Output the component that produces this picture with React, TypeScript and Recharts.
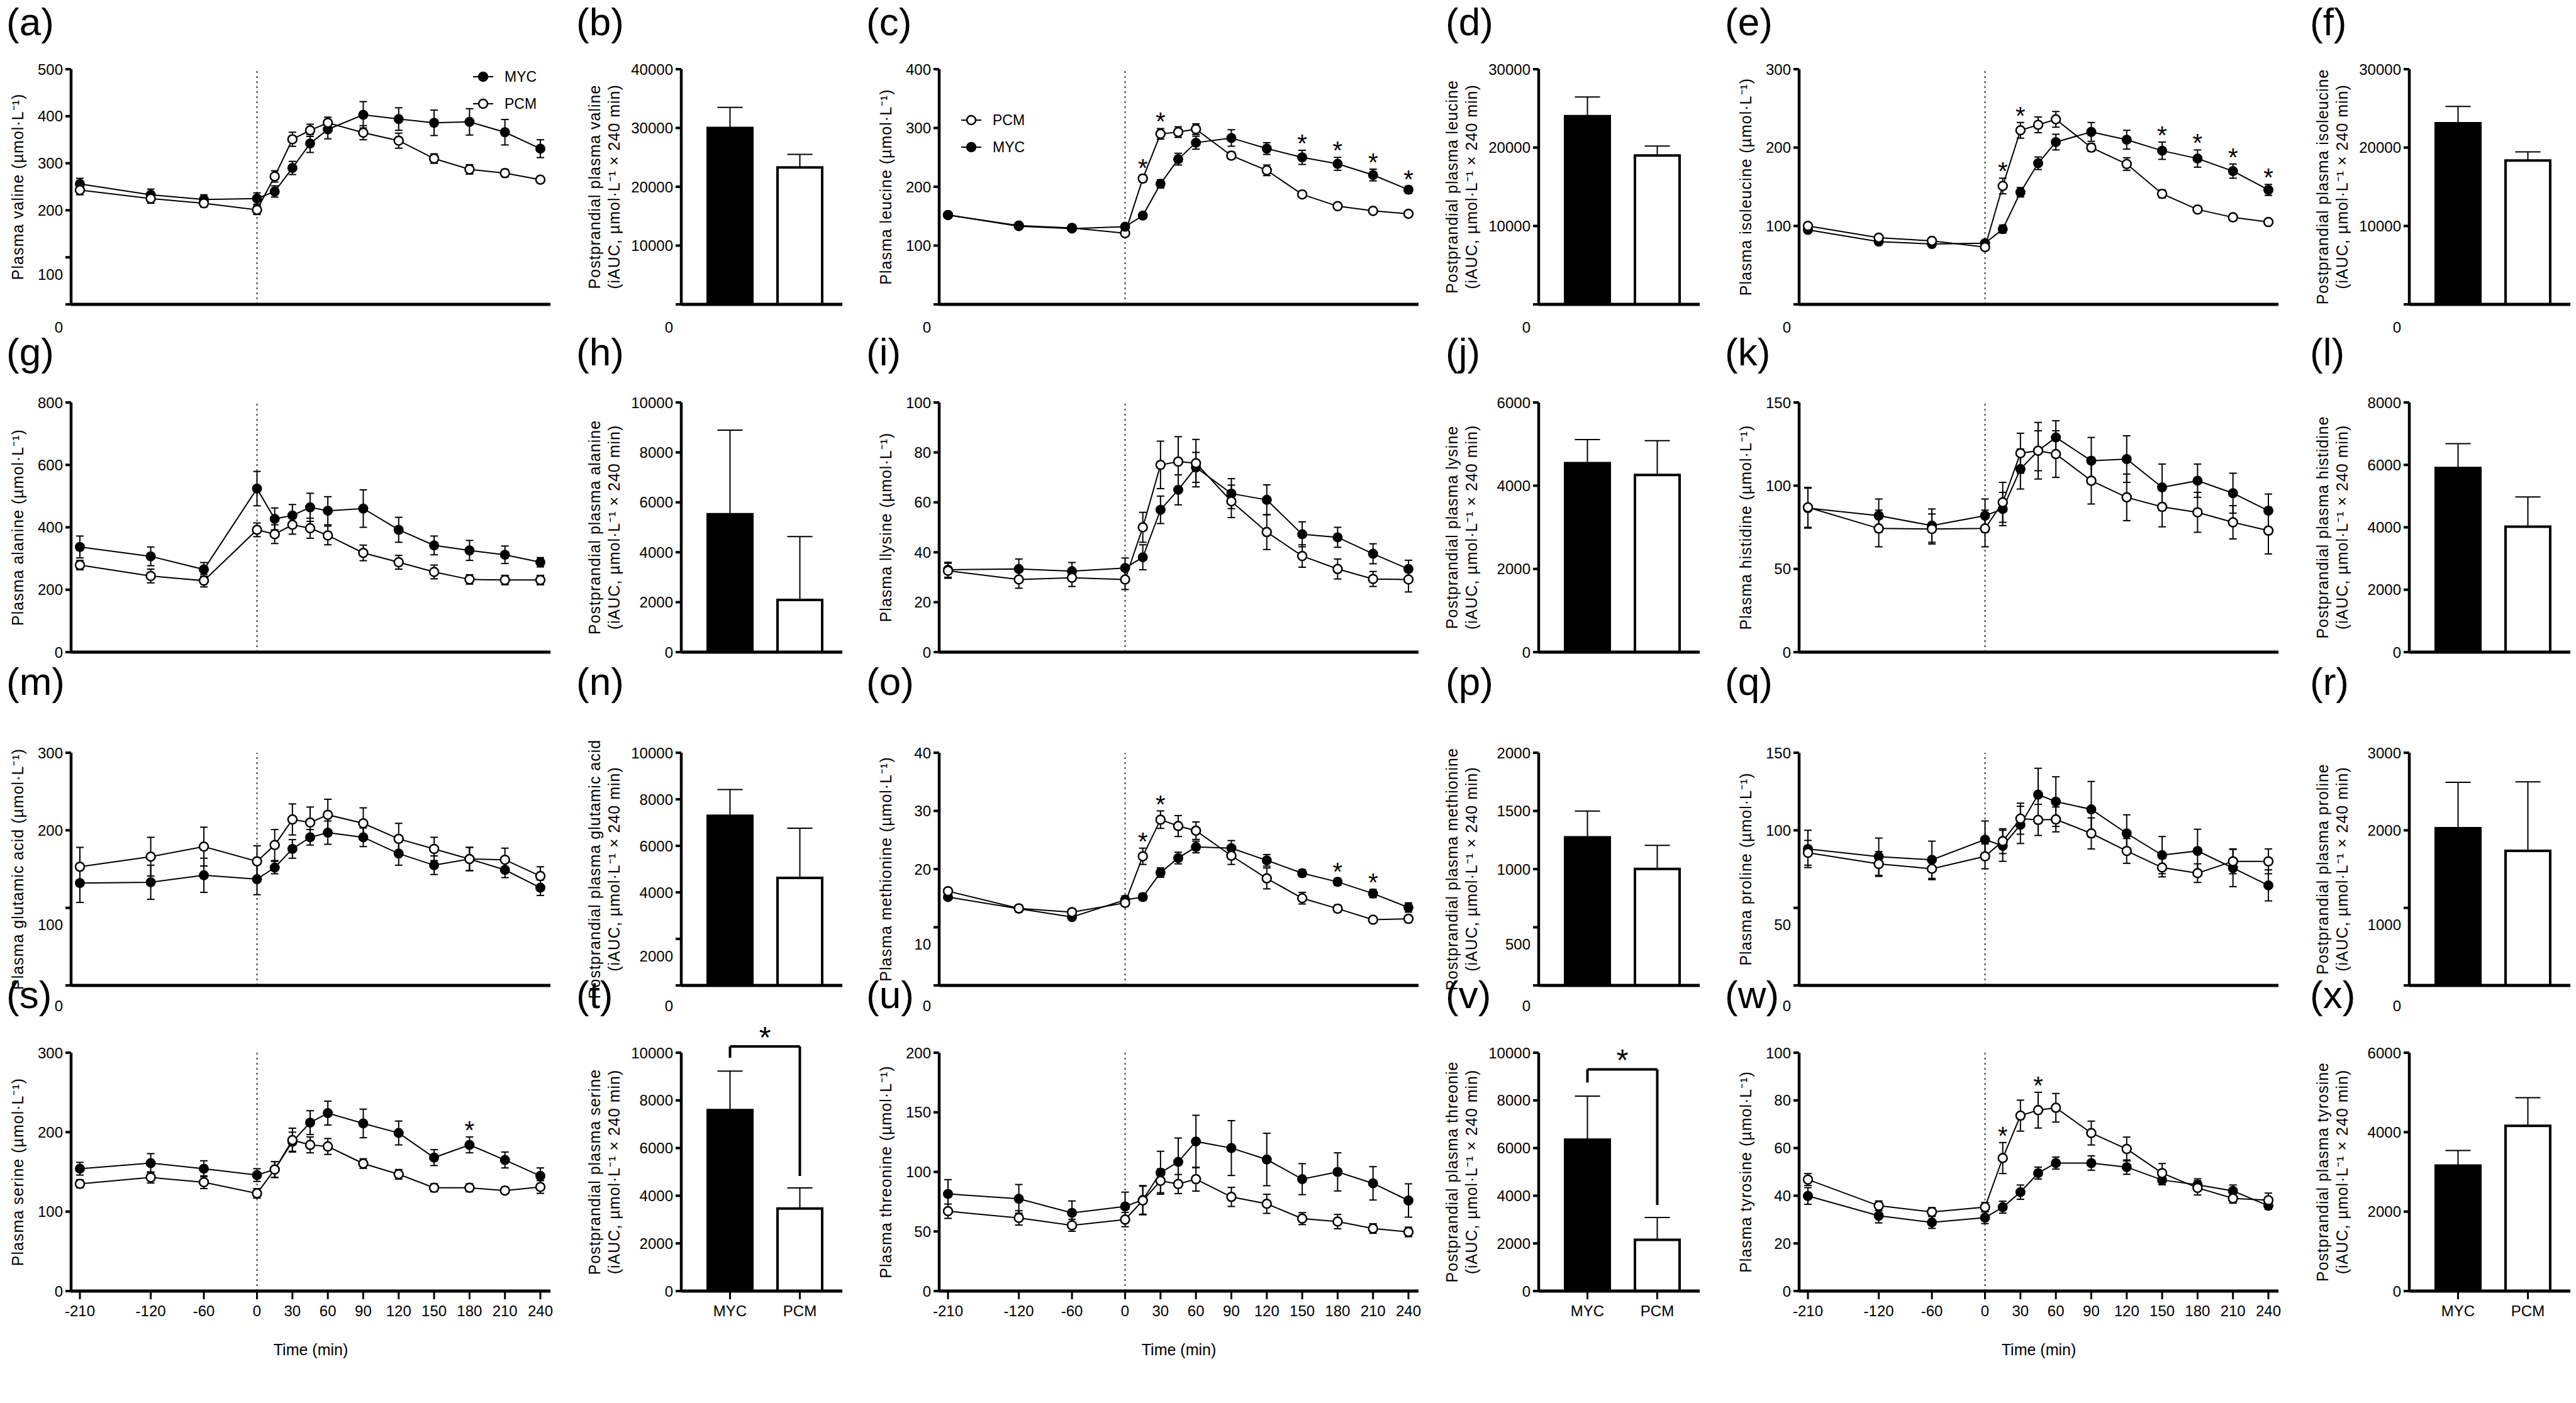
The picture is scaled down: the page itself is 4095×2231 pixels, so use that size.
import React from 'react';
import {ComposedChart, Line, BarChart, Bar, Cell, XAxis, YAxis, ReferenceLine, ErrorBar} from 'recharts';

const FONT = '"Liberation Sans", Arial, Helvetica, sans-serif';

// sampling times (min) and the x tick labels
const times = [-210, -120, -60, 0, 15, 30, 45, 60, 90, 120, 150, 180, 210, 240];
const xTickTimes = [-210, -120, -60, 0, 30, 60, 90, 120, 150, 180, 210, 240];
const groups = ['MYC', 'PCM'];

// valine
const valineMYC = [256, 233, 223, 225, 240, 290, 342, 372, 403, 394, 386, 388, 366, 331];
const valineMYCse = [12, 12, 10, 12, 12, 14, 19, 20, 28, 24, 27, 28, 27, 19];
const valinePCM = [243, 225, 215, 201, 272, 351, 370, 386, 365, 348, 310, 287, 279, 265];
const valinePCMse = [10, 10, 8, 10, 12, 15, 13, 12, 15, 16, 10, 10, 8, 7];
const valineAUC = [30000, 23300];
const valineAUCse = [3500, 2200];

// leucine
const leucineMYC = [152, 133, 129, 132, 151, 205, 247, 275, 283, 265, 250, 239, 220, 195];
const leucineMYCse = [3, 3, 3, 4, 5, 7, 10, 11, 14, 10, 12, 11, 10, 6];
const leucinePCM = [152, 134, 130, 121, 214, 290, 293, 298, 253, 228, 187, 167, 159, 154];
const leucinePCMse = [3, 3, 3, 4, 6, 9, 9, 9, 6, 9, 5, 4, 4, 4];
const leucineAUC = [24000, 19000];
const leucineAUCse = [2450, 1200];

// isoleucine
const isoleucineMYC = [95, 80, 77, 78, 96, 143, 180, 207, 220, 210, 196, 186, 170, 146];
const isoleucineMYCse = [3, 3, 3, 3, 5, 6, 8, 10, 12, 12, 11, 11, 9, 7];
const isoleucinePCM = [100, 85, 81, 73, 151, 222, 229, 236, 200, 179, 141, 121, 111, 105];
const isoleucinePCMse = [3, 3, 3, 3, 10, 10, 10, 10, 5, 8, 5, 4, 4, 3];
const isoleucineAUC = [23100, 18350];
const isoleucineAUCse = [2150, 1100];

// alanine
const alanineMYC = [337, 307, 265, 524, 427, 438, 464, 453, 460, 392, 342, 326, 312, 288];
const alanineMYCse = [35, 30, 22, 55, 35, 35, 45, 45, 60, 40, 30, 32, 28, 15];
const alaninePCM = [279, 244, 229, 392, 378, 408, 397, 374, 318, 288, 257, 233, 231, 231];
const alaninePCMse = [15, 22, 20, 22, 30, 30, 32, 30, 25, 22, 22, 15, 15, 15];
const alanineAUC = [5520, 2090];
const alanineAUCse = [3370, 2540];

// lysine
const lysineMYC = [33, 33.3, 32.4, 33.7, 38, 57, 65, 74, 63.5, 61, 47.2, 46, 39.4, 33.3];
const lysineMYCse = [3, 4, 3.5, 4, 5, 5.5, 6, 6, 6, 6, 5, 4, 4, 3.5];
const lysinePCM = [32.6, 29.1, 29.8, 29.1, 50, 75, 76.3, 75.7, 60.4, 48.1, 38.5, 33.3, 29.3, 29.1];
const lysinePCMse = [3, 3.5, 3.5, 4, 6, 9.5, 10, 9.5, 6.5, 7, 4.5, 4, 3, 5];
const lysineAUC = [4540, 4260];
const lysineAUCse = [570, 820];

// histidine
const histidineMYC = [86.5, 82, 76, 82, 86, 110, 121, 129, 115, 116, 99, 103, 95.5, 85];
const histidineMYCse = [12, 10, 10, 10, 10, 12, 17, 10, 14, 14, 14, 10, 12, 10];
const histidinePCM = [87, 74.3, 74, 74.3, 90, 119.5, 121, 119, 103, 93, 87.3, 84, 78, 73];
const histidinePCMse = [12, 11, 9, 11, 12, 12, 12, 14, 14, 14, 12, 12, 10, 14];
const histidineAUC = [5900, 4020];
const histidineAUCse = [780, 950];

// glutamic acid
const glutamicMYC = [132, 133, 142, 137, 152, 176, 191, 197, 191, 170, 155, 163, 149, 126];
const glutamicMYCse = [25, 22, 22, 20, 8, 12, 10, 15, 12, 15, 12, 15, 10, 10];
const glutamicPCM = [153, 166, 179, 160, 181, 214, 210, 220, 209, 189, 176, 163, 162, 141];
const glutamicPCMse = [25, 25, 25, 20, 20, 20, 20, 20, 20, 20, 15, 15, 15, 12];
const glutamicAUC = [7290, 4620];
const glutamicAUCse = [1130, 2140];

// methionine
const methionineMYC = [15.2, 13.2, 11.75, 14.7, 15.2, 19.4, 21.9, 23.8, 23.6, 21.5, 19.3, 17.8, 15.8, 13.4];
const methionineMYCse = [0.5, 0.6, 0.5, 0.7, 0.6, 0.8, 1.0, 1.0, 1.3, 1.0, 0.6, 0.6, 0.7, 0.8];
const methioninePCM = [16.2, 13.25, 12.6, 14.2, 22.2, 28.5, 27.4, 26.6, 22.3, 18.4, 15.0, 13.2, 11.3, 11.45];
const methioninePCMse = [0.5, 0.5, 0.5, 0.6, 1.4, 1.5, 1.8, 1.5, 1.5, 1.8, 1.0, 0.6, 0.4, 0.6];
const methionineAUC = [1273, 1002];
const methionineAUCse = [225, 202];

// proline
const prolineMYC = [88, 83, 81, 94, 90, 103.5, 123, 118.5, 113.5, 98, 84, 86.7, 75.7, 64.5];
const prolineMYCse = [12, 12, 12, 12, 10, 12, 17, 16, 18, 12, 12, 14, 12, 10];
const prolinePCM = [85.5, 78.3, 75.2, 83.2, 93, 107.5, 106.7, 107, 98, 86.7, 76, 72.4, 80, 80];
const prolinePCMse = [8, 8, 7, 8, 8, 10, 10, 8, 10, 8, 6, 6, 8, 8];
const prolineAUC = [2028, 1735];
const prolineAUCse = [590, 890];

// serine
const serineMYC = [154, 161, 154, 146, 153, 188, 212, 224, 211, 199, 168, 184, 165, 145];
const serineMYCse = [8, 12, 10, 8, 10, 12, 15, 15, 18, 15, 10, 10, 10, 10];
const serinePCM = [135, 143, 137, 123, 153, 190, 184, 182, 160.5, 147, 130, 130, 126.5, 131];
const serinePCMse = [5, 7, 8, 6, 10, 15, 10, 10, 6, 6, 5, 5, 4, 8];
const serineAUC = [7590, 3460];
const serineAUCse = [1640, 870];

// threonine
const threonineMYC = [81.5, 77.4, 65.6, 71, 76.5, 99.3, 108.4, 125.5, 120, 110.4, 93.9, 100, 90.4, 76];
const threonineMYCse = [12, 12, 10, 12, 12, 18, 20, 22, 23, 22, 13, 16, 14, 14];
const threoninePCM = [67, 61.4, 55.2, 60, 76, 92.5, 89.8, 93.9, 79, 73.2, 60.8, 58.3, 52.5, 49.6];
const threoninePCMse = [6, 6, 5, 6, 12, 10, 8, 10, 8, 8, 5, 6, 4, 4];
const threonineAUC = [6350, 2150];
const threonineAUCse = [1830, 940];

// tyrosine
const tyrosineMYC = [39.9, 31.6, 28.8, 30.8, 35.2, 41.5, 49.5, 53.7, 53.7, 52, 46.6, 44.6, 42, 35.8];
const tyrosineMYCse = [3.5, 3, 2.5, 2.5, 2.5, 3, 2.5, 2.5, 3, 3, 2, 2.5, 2.5, 1.5];
const tyrosinePCM = [46.8, 35.8, 33.2, 35.2, 55.8, 73.6, 75.9, 76.9, 66.3, 59.6, 49.5, 43.3, 38.9, 38.1];
const tyrosinePCMse = [2.5, 2, 1.8, 2, 6.5, 6.5, 7.5, 6, 5, 5, 4, 3, 2, 3];
const tyrosineAUC = [3160, 4160];
const tyrosineAUCse = [380, 710];

// layout of the 4 x 3 grid of panel pairs
const COL_X = [0, 1365, 2730];
const LINE_AXIS_X = [113, 128, 130];
const BAR_AXIS_X = [1083, 1081, 1100];
const LINE_LETTER_X = [10, 12, 12];
const BAR_LETTER_X = [916, 933, 942];
const LETTER_TOP = [4, 529, 1053, 1551];
const PLOT_TOP = [110, 640, 1197, 1674];
const PLOT_BOTTOM = [484, 1037, 1567, 2053];
const LINE_PLOT_W = 762;
const BAR_PLOT_W = 256;
const BAR_AXIS_W = 170;
const MT = 50;
const TICK_FONT = 24;

// the time axis is broken: the fasting period is compressed
const knotTimes = [-210, -120, -60, 0, 240];
const knotSlots = [0, 2, 3.5, 5, 13];
function timePos(t: number) {
  for (let k = 0; k < knotTimes.length - 1; k++) {
    if (t <= knotTimes[k + 1]) {
      return knotSlots[k] + ((t - knotTimes[k]) / (knotTimes[k + 1] - knotTimes[k])) * (knotSlots[k + 1] - knotSlots[k]);
    }
  }
  return knotSlots[knotSlots.length - 1];
}
const xTickPos = xTickTimes.map(timePos);

const UNIT = ' (µmol·L⁻¹)';
const AUC_UNIT = '(iAUC, µmol·L⁻¹ × 240 min)';

const linePanels = [
  {letter: 'a', name: 'valine', yMax: 500, step: 100, myc: valineMYC, mycSe: valineMYCse, pcm: valinePCM, pcmSe: valinePCMse, stars: [] as number[], shift: {0: 36, 100: 27}},
  {letter: 'c', name: 'leucine', yMax: 400, step: 100, myc: leucineMYC, mycSe: leucineMYCse, pcm: leucinePCM, pcmSe: leucinePCMse, stars: [15, 30, 150, 180, 210, 240], shift: {0: 36}, mycOnTop: true},
  {letter: 'e', name: 'isoleucine', yMax: 300, step: 100, myc: isoleucineMYC, mycSe: isoleucineMYCse, pcm: isoleucinePCM, pcmSe: isoleucinePCMse, stars: [15, 30, 150, 180, 210, 240], shift: {0: 36}},
  {letter: 'g', name: 'alanine', yMax: 800, step: 200, myc: alanineMYC, mycSe: alanineMYCse, pcm: alaninePCM, pcmSe: alaninePCMse, stars: [], shift: {}},
  {letter: 'i', name: 'llysine', yMax: 100, step: 20, myc: lysineMYC, mycSe: lysineMYCse, pcm: lysinePCM, pcmSe: lysinePCMse, stars: [], shift: {}},
  {letter: 'k', name: 'histidine', yMax: 150, step: 50, myc: histidineMYC, mycSe: histidineMYCse, pcm: histidinePCM, pcmSe: histidinePCMse, stars: [], shift: {}},
  {letter: 'm', name: 'glutamic acid', yMax: 300, step: 100, myc: glutamicMYC, mycSe: glutamicMYCse, pcm: glutamicPCM, pcmSe: glutamicPCMse, stars: [], shift: {0: 32, 100: 27}},
  {letter: 'o', name: 'methionine', yMax: 40, step: 10, myc: methionineMYC, mycSe: methionineMYCse, pcm: methioninePCM, pcmSe: methioninePCMse, stars: [15, 30, 180, 210], shift: {0: 32, 10: 27}},
  {letter: 'q', name: 'proline', yMax: 150, step: 50, myc: prolineMYC, mycSe: prolineMYCse, pcm: prolinePCM, pcmSe: prolinePCMse, stars: [], shift: {0: 32, 50: 27}},
  {letter: 's', name: 'serine', yMax: 300, step: 100, myc: serineMYC, mycSe: serineMYCse, pcm: serinePCM, pcmSe: serinePCMse, stars: [180], shift: {}},
  {letter: 'u', name: 'threonine', yMax: 200, step: 50, myc: threonineMYC, mycSe: threonineMYCse, pcm: threoninePCM, pcmSe: threoninePCMse, stars: [], shift: {}},
  {letter: 'w', name: 'tyrosine', yMax: 100, step: 20, myc: tyrosineMYC, mycSe: tyrosineMYCse, pcm: tyrosinePCM, pcmSe: tyrosinePCMse, stars: [15, 45], shift: {}},
];

const barPanels = [
  {letter: 'b', name: 'valine', yMax: 40000, step: 10000, vals: valineAUC, errs: valineAUCse, shift: {0: 36}},
  {letter: 'd', name: 'leucine', yMax: 30000, step: 10000, vals: leucineAUC, errs: leucineAUCse, shift: {0: 36}},
  {letter: 'f', name: 'isoleucine', yMax: 30000, step: 10000, vals: isoleucineAUC, errs: isoleucineAUCse, shift: {0: 36}},
  {letter: 'h', name: 'alanine', yMax: 10000, step: 2000, vals: alanineAUC, errs: alanineAUCse, shift: {}},
  {letter: 'j', name: 'lysine', yMax: 6000, step: 2000, vals: lysineAUC, errs: lysineAUCse, shift: {}},
  {letter: 'l', name: 'histidine', yMax: 8000, step: 2000, vals: histidineAUC, errs: histidineAUCse, shift: {}},
  {letter: 'n', name: 'glutamic acid', yMax: 10000, step: 2000, vals: glutamicAUC, errs: glutamicAUCse, shift: {0: 32, 2000: 27}},
  {letter: 'p', name: 'methionine', yMax: 2000, step: 500, vals: methionineAUC, errs: methionineAUCse, shift: {0: 32, 500: 27}},
  {letter: 'r', name: 'proline', yMax: 3000, step: 1000, vals: prolineAUC, errs: prolineAUCse, shift: {0: 32, 1000: 27}},
  {letter: 't', name: 'serine', yMax: 10000, step: 2000, vals: serineAUC, errs: serineAUCse, shift: {}, bracket: {left: 9790, top: 10262, right: 4826}},
  {letter: 'v', name: 'threonie', yMax: 10000, step: 2000, vals: threonineAUC, errs: threonineAUCse, shift: {}, bracket: {left: 8750, top: 9302, right: 3615}},
  {letter: 'x', name: 'tyrosine', yMax: 6000, step: 2000, vals: tyrosineAUC, errs: tyrosineAUCse, shift: {}},
];

function makeTicks(max: number, step: number) {
  const out: number[] = [];
  for (let v = 0; v <= max + 1e-9; v += step) out.push(v);
  return out;
}

function YTick(props: any) {
  const {x, y, payload, shift} = props;
  const dy = (shift && shift[payload.value]) || 0;
  return (
    <text x={x} y={y + dy} dy="0.36em" textAnchor="end" fontSize={TICK_FONT} fontFamily={FONT} fill="#000">
      {payload.value}
    </text>
  );
}

function SideTitle(props: any) {
  const {tx, ty, lines} = props;
  return (
    <g>
      {lines.map((s: string, i: number) => (
        <text key={i} x={tx + i * 31} y={ty} transform={`rotate(-90 ${tx + i * 31} ${ty})`} textAnchor="middle"
          dominantBaseline="central" fontSize={25} letterSpacing={1} fontFamily={FONT} fill="#000">
          {s}
        </text>
      ))}
    </g>
  );
}

const renderStar = (props: any) => {
  const {cx, cy, payload, index} = props;
  if (!payload || payload.star == null || cy == null || isNaN(cy)) return <g key={`st${index}`} />;
  return (
    <text key={`st${index}`} x={cx} y={cy + 3} textAnchor="middle" fontSize={40} fontFamily={FONT} fill="#000">*</text>
  );
};

function TimeCourse({p, row, col}: any) {
  const L = LINE_AXIS_X[col];
  const plotH = PLOT_BOTTOM[row] - PLOT_TOP[row];
  const last = row === 3;
  const xh = last ? 120 : 70;
  const W = L + LINE_PLOT_W + 12;
  const H = MT + plotH + xh;
  const data = times.map((t, i) => ({
    x: timePos(t),
    myc: p.myc[i],
    mycE: p.mycSe[i],
    pcm: p.pcm[i],
    pcmE: p.pcmSe[i],
    star: p.stars.includes(t) ? Math.max(p.myc[i] + p.mycSe[i], p.pcm[i] + p.pcmSe[i]) : null,
  }));
  const mycLine = (
    <Line key="myc" dataKey="myc" stroke="#000" strokeWidth={2} isAnimationActive={false} activeDot={false}
      dot={{r: 7, fill: '#000', stroke: '#000', strokeWidth: 2}}>
      <ErrorBar dataKey="mycE" width={6} stroke="#000" strokeWidth={2} direction="y" isAnimationActive={false} />
    </Line>
  );
  const pcmLine = (
    <Line key="pcm" dataKey="pcm" stroke="#000" strokeWidth={2} isAnimationActive={false} activeDot={false}
      dot={{r: 7, fill: '#fff', stroke: '#000', strokeWidth: 2.5}}>
      <ErrorBar dataKey="pcmE" width={6} stroke="#000" strokeWidth={2} direction="y" isAnimationActive={false} />
    </Line>
  );
  return (
    <div style={{position: 'absolute', left: COL_X[col], top: PLOT_TOP[row] - MT}}>
      <ComposedChart width={W} height={H} data={data} margin={{top: MT, right: 12, bottom: 0, left: 0}}>
        <XAxis type="number" dataKey="x" domain={[0, 13]} ticks={xTickPos} interval={0}
          padding={{left: 14, right: 16}} height={xh} tickSize={13} tickMargin={10}
          tickLine={{stroke: '#000', strokeWidth: 3}} axisLine={{stroke: '#000', strokeWidth: 5}}
          tick={last ? {fontSize: TICK_FONT, fontFamily: FONT, fill: '#000'} : false}
          tickFormatter={(v: number, i: number) => String(xTickTimes[i])}
          label={last ? {value: 'Time (min)', position: 'insideBottom', offset: 18, fontSize: 25, fontFamily: FONT, fill: '#000'} : undefined} />
        <YAxis type="number" domain={[0, p.yMax]} ticks={makeTicks(p.yMax, p.step)} interval={0}
          width={L} tickSize={9} tickMargin={4} tick={<YTick shift={p.shift} />}
          tickLine={{stroke: '#000', strokeWidth: 4}} axisLine={{stroke: '#000', strokeWidth: 4.5}}
          label={<SideTitle tx={L - 85} ty={MT + plotH / 2} lines={['Plasma ' + p.name + UNIT]} />} />
        <ReferenceLine x={timePos(0)} stroke="#000" strokeWidth={1.5} strokeDasharray="3 5" />
        {p.mycOnTop ? [pcmLine, mycLine] : [mycLine, pcmLine]}
        <Line dataKey="star" stroke="none" isAnimationActive={false} activeDot={false} legendType="none" dot={renderStar} />
      </ComposedChart>
    </div>
  );
}

function AucBars({p, row, col}: any) {
  const B = BAR_AXIS_X[col];
  const plotH = PLOT_BOTTOM[row] - PLOT_TOP[row];
  const last = row === 3;
  const xh = 80;
  const data = groups.map((g, i) => ({name: g, v: p.vals[i], e: [0, p.errs[i]]}));
  const br = p.bracket;
  const seg = {stroke: '#000', strokeWidth: 4, ifOverflow: 'visible' as const};
  return (
    <div style={{position: 'absolute', left: COL_X[col] + B - BAR_AXIS_W, top: PLOT_TOP[row] - MT}}>
      <BarChart width={BAR_AXIS_W + BAR_PLOT_W + 10} height={MT + plotH + xh} data={data} barSize={71}
        margin={{top: MT, right: 10, bottom: 0, left: 0}}>
        <XAxis dataKey="name" padding={{left: 22, right: 12}} height={xh} tickSize={13} tickMargin={10} interval={0}
          tickLine={{stroke: '#000', strokeWidth: 3}} axisLine={{stroke: '#000', strokeWidth: 5}}
          tick={last ? {fontSize: TICK_FONT, fontFamily: FONT, fill: '#000'} : false} />
        <YAxis type="number" domain={[0, p.yMax]} allowDataOverflow ticks={makeTicks(p.yMax, p.step)} interval={0}
          width={BAR_AXIS_W} tickSize={9} tickMargin={4} tick={<YTick shift={p.shift} />}
          tickLine={{stroke: '#000', strokeWidth: 4}} axisLine={{stroke: '#000', strokeWidth: 4.5}}
          label={<SideTitle tx={BAR_AXIS_W - 138} ty={MT + plotH / 2} lines={['Postprandial plasma ' + p.name, AUC_UNIT]} />} />
        <Bar dataKey="v" stroke="#000" strokeWidth={4} isAnimationActive={false}>
          {data.map((d, i) => <Cell key={d.name} fill={i === 0 ? '#000' : '#fff'} />)}
          <ErrorBar dataKey="e" width={20} stroke="#000" strokeWidth={2} direction="y" isAnimationActive={false} />
        </Bar>
        {br && <ReferenceLine segment={[{x: 'MYC', y: br.left}, {x: 'MYC', y: br.top}]} {...seg} />}
        {br && (
          <ReferenceLine segment={[{x: 'MYC', y: br.top}, {x: 'PCM', y: br.top}]} {...seg}
            label={{value: '*', position: 'top', offset: -2, fontSize: 48, fontFamily: FONT, fill: '#000'}} />
        )}
        {br && <ReferenceLine segment={[{x: 'PCM', y: br.top}, {x: 'PCM', y: br.right}]} {...seg} />}
      </BarChart>
    </div>
  );
}

function LegendBox({left, top, order}: {left: number; top: number; order: string[]}) {
  return (
    <svg style={{position: 'absolute', left, top}} width={140} height={90}>
      {order.map((g, i) => {
        const y = 14 + i * 43;
        return (
          <g key={g}>
            <line x1={2} y1={y} x2={34} y2={y} stroke="#000" strokeWidth={2} />
            <circle cx={18} cy={y} r={7} fill={g === 'MYC' ? '#000' : '#fff'} stroke="#000" strokeWidth={2.5} />
            <text x={52} y={y} dominantBaseline="central" fontSize={23} fontFamily={FONT} fill="#000">{g}</text>
          </g>
        );
      })}
    </svg>
  );
}

export default function App() {
  const letterStyle = {position: 'absolute' as const, fontSize: 62, lineHeight: '62px', fontFamily: FONT};
  return (
    <div style={{position: 'absolute', left: 0, top: 0, width: 4095, height: 2231, background: '#fff', overflow: 'hidden'}}>
      {linePanels.map((p, i) => (
        <TimeCourse key={p.letter} p={p} row={Math.floor(i / 3)} col={i % 3} />
      ))}
      {barPanels.map((p, i) => (
        <AucBars key={p.letter} p={p} row={Math.floor(i / 3)} col={i % 3} />
      ))}
      {linePanels.map((p, i) => {
        const row = Math.floor(i / 3);
        const col = i % 3;
        return (
          <React.Fragment key={'lt' + p.letter}>
            <div style={{...letterStyle, left: COL_X[col] + LINE_LETTER_X[col], top: LETTER_TOP[row]}}>
              {'(' + p.letter + ')'}
            </div>
            <div style={{...letterStyle, left: COL_X[col] + BAR_LETTER_X[col], top: LETTER_TOP[row]}}>
              {'(' + barPanels[i].letter + ')'}
            </div>
          </React.Fragment>
        );
      })}
      <LegendBox left={750} top={108} order={['MYC', 'PCM']} />
      <LegendBox left={COL_X[1] + 161} top={177} order={['PCM', 'MYC']} />
    </div>
  );
}
